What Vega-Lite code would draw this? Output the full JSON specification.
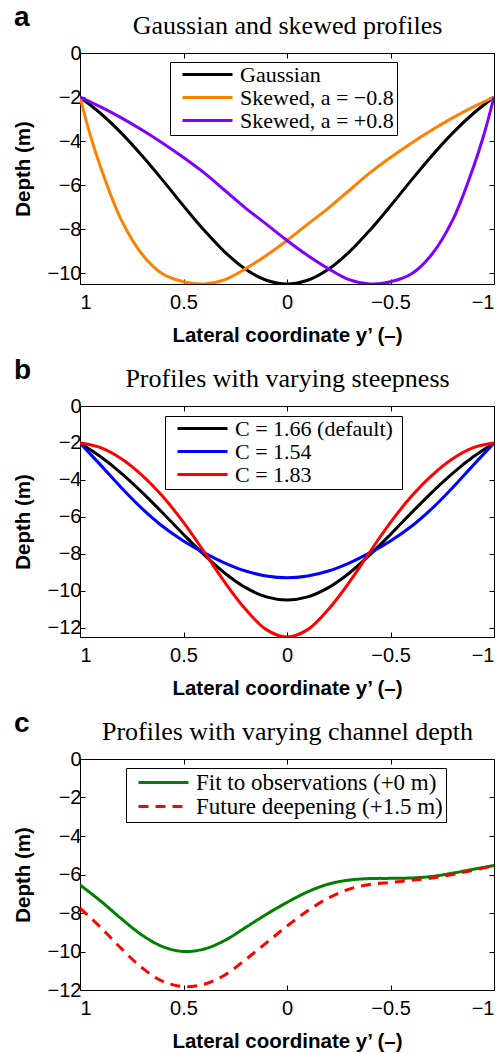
{
  "$schema": "https://vega.github.io/schema/vega-lite/v6.json",
  "background": "white",
  "padding": {"left": 12, "top": 3, "right": 0, "bottom": 0},
  "spacing": 10,
  "resolve": {"scale": {"color": "independent", "strokeDash": "independent"}, "legend": {"color": "independent", "strokeDash": "independent"}},
  "config": {
    "view": {"stroke": "black", "strokeWidth": 1},
    "axis": {"labelFont": "Liberation Sans", "labelFontSize": 20, "labelColor": "black", "titleFont": "Liberation Sans", "titleFontSize": 20.5, "titleFontWeight": "bold", "titleColor": "black", "tickColor": "black", "tickSize": -5, "tickWidth": 1, "domain": false, "grid": false},
    "legend": {"orient": "none", "strokeColor": "black", "fillColor": "white", "padding": 3, "labelFont": "Liberation Serif", "labelColor": "black", "symbolType": "stroke", "symbolSize": 2500, "symbolStrokeWidth": 3, "symbolOffset": 8, "labelOffset": 6, "rowPadding": 0, "cornerRadius": 0, "labelLimit": 400},
    "title": {"font": "Liberation Sans", "fontSize": 28, "fontWeight": "bold", "color": "black", "anchor": "start", "frame": "group"}
  },
  "datasets": {
    "a": [
      {"s": "Gaussian", "y": -1, "d": -2}, {"s": "Gaussian", "y": -0.9, "d": -2.75}, {"s": "Gaussian", "y": -0.8, "d": -3.64}, {"s": "Gaussian", "y": -0.7, "d": -4.67}, {"s": "Gaussian", "y": -0.6, "d": -5.79}, {"s": "Gaussian", "y": -0.5, "d": -6.95}, {"s": "Gaussian", "y": -0.4, "d": -8.06}, {"s": "Gaussian", "y": -0.3, "d": -9.05}, {"s": "Gaussian", "y": -0.2, "d": -9.83}, {"s": "Gaussian", "y": -0.1, "d": -10.33}, {"s": "Gaussian", "y": 0, "d": -10.5}, {"s": "Gaussian", "y": 0.1, "d": -10.33}, {"s": "Gaussian", "y": 0.2, "d": -9.83}, {"s": "Gaussian", "y": 0.3, "d": -9.05}, {"s": "Gaussian", "y": 0.4, "d": -8.06}, {"s": "Gaussian", "y": 0.5, "d": -6.95}, {"s": "Gaussian", "y": 0.6, "d": -5.79}, {"s": "Gaussian", "y": 0.7, "d": -4.67}, {"s": "Gaussian", "y": 0.8, "d": -3.64}, {"s": "Gaussian", "y": 0.9, "d": -2.75}, {"s": "Gaussian", "y": 1, "d": -2},
      {"s": "Skewed, a = −0.8", "y": -1, "d": -2}, {"s": "Skewed, a = −0.8", "y": -0.9, "d": -2.45}, {"s": "Skewed, a = −0.8", "y": -0.8, "d": -2.95}, {"s": "Skewed, a = −0.8", "y": -0.7, "d": -3.5}, {"s": "Skewed, a = −0.8", "y": -0.6, "d": -4.1}, {"s": "Skewed, a = −0.8", "y": -0.5, "d": -4.75}, {"s": "Skewed, a = −0.8", "y": -0.4, "d": -5.45}, {"s": "Skewed, a = −0.8", "y": -0.3, "d": -6.25}, {"s": "Skewed, a = −0.8", "y": -0.2, "d": -7.05}, {"s": "Skewed, a = −0.8", "y": -0.1, "d": -7.78}, {"s": "Skewed, a = −0.8", "y": 0, "d": -8.52}, {"s": "Skewed, a = −0.8", "y": 0.1, "d": -9.2}, {"s": "Skewed, a = −0.8", "y": 0.2, "d": -9.8}, {"s": "Skewed, a = −0.8", "y": 0.3, "d": -10.3}, {"s": "Skewed, a = −0.8", "y": 0.4, "d": -10.5}, {"s": "Skewed, a = −0.8", "y": 0.5, "d": -10.4}, {"s": "Skewed, a = −0.8", "y": 0.6, "d": -10.05}, {"s": "Skewed, a = −0.8", "y": 0.7, "d": -9.15}, {"s": "Skewed, a = −0.8", "y": 0.8, "d": -7.6}, {"s": "Skewed, a = −0.8", "y": 0.9, "d": -5.2}, {"s": "Skewed, a = −0.8", "y": 0.95, "d": -3.75}, {"s": "Skewed, a = −0.8", "y": 1, "d": -2},
      {"s": "Skewed, a = +0.8", "y": 1, "d": -2}, {"s": "Skewed, a = +0.8", "y": 0.9, "d": -2.45}, {"s": "Skewed, a = +0.8", "y": 0.8, "d": -2.95}, {"s": "Skewed, a = +0.8", "y": 0.7, "d": -3.5}, {"s": "Skewed, a = +0.8", "y": 0.6, "d": -4.1}, {"s": "Skewed, a = +0.8", "y": 0.5, "d": -4.75}, {"s": "Skewed, a = +0.8", "y": 0.4, "d": -5.45}, {"s": "Skewed, a = +0.8", "y": 0.3, "d": -6.25}, {"s": "Skewed, a = +0.8", "y": 0.2, "d": -7.05}, {"s": "Skewed, a = +0.8", "y": 0.1, "d": -7.78}, {"s": "Skewed, a = +0.8", "y": 0, "d": -8.52}, {"s": "Skewed, a = +0.8", "y": -0.1, "d": -9.2}, {"s": "Skewed, a = +0.8", "y": -0.2, "d": -9.8}, {"s": "Skewed, a = +0.8", "y": -0.3, "d": -10.3}, {"s": "Skewed, a = +0.8", "y": -0.4, "d": -10.5}, {"s": "Skewed, a = +0.8", "y": -0.5, "d": -10.4}, {"s": "Skewed, a = +0.8", "y": -0.6, "d": -10.05}, {"s": "Skewed, a = +0.8", "y": -0.7, "d": -9.15}, {"s": "Skewed, a = +0.8", "y": -0.8, "d": -7.6}, {"s": "Skewed, a = +0.8", "y": -0.9, "d": -5.2}, {"s": "Skewed, a = +0.8", "y": -0.95, "d": -3.75}, {"s": "Skewed, a = +0.8", "y": -1, "d": -2}
    ],
    "b": [
      {"s": "C = 1.66  (default)", "y": -1, "d": -2}, {"s": "C = 1.66  (default)", "y": -0.9, "d": -2.75}, {"s": "C = 1.66  (default)", "y": -0.8, "d": -3.64}, {"s": "C = 1.66  (default)", "y": -0.7, "d": -4.67}, {"s": "C = 1.66  (default)", "y": -0.6, "d": -5.79}, {"s": "C = 1.66  (default)", "y": -0.5, "d": -6.95}, {"s": "C = 1.66  (default)", "y": -0.4, "d": -8.06}, {"s": "C = 1.66  (default)", "y": -0.3, "d": -9.05}, {"s": "C = 1.66  (default)", "y": -0.2, "d": -9.83}, {"s": "C = 1.66  (default)", "y": -0.1, "d": -10.33}, {"s": "C = 1.66  (default)", "y": 0, "d": -10.5}, {"s": "C = 1.66  (default)", "y": 0.1, "d": -10.33}, {"s": "C = 1.66  (default)", "y": 0.2, "d": -9.83}, {"s": "C = 1.66  (default)", "y": 0.3, "d": -9.05}, {"s": "C = 1.66  (default)", "y": 0.4, "d": -8.06}, {"s": "C = 1.66  (default)", "y": 0.5, "d": -6.95}, {"s": "C = 1.66  (default)", "y": 0.6, "d": -5.79}, {"s": "C = 1.66  (default)", "y": 0.7, "d": -4.67}, {"s": "C = 1.66  (default)", "y": 0.8, "d": -3.64}, {"s": "C = 1.66  (default)", "y": 0.9, "d": -2.75}, {"s": "C = 1.66  (default)", "y": 1, "d": -2},
      {"s": "C = 1.54", "y": -1, "d": -2}, {"s": "C = 1.54", "y": -0.9, "d": -3.2}, {"s": "C = 1.54", "y": -0.8, "d": -4.42}, {"s": "C = 1.54", "y": -0.7, "d": -5.55}, {"s": "C = 1.54", "y": -0.6, "d": -6.52}, {"s": "C = 1.54", "y": -0.5, "d": -7.3}, {"s": "C = 1.54", "y": -0.4, "d": -7.95}, {"s": "C = 1.54", "y": -0.3, "d": -8.5}, {"s": "C = 1.54", "y": -0.2, "d": -8.93}, {"s": "C = 1.54", "y": -0.1, "d": -9.2}, {"s": "C = 1.54", "y": 0, "d": -9.3}, {"s": "C = 1.54", "y": 0.1, "d": -9.2}, {"s": "C = 1.54", "y": 0.2, "d": -8.93}, {"s": "C = 1.54", "y": 0.3, "d": -8.5}, {"s": "C = 1.54", "y": 0.4, "d": -7.95}, {"s": "C = 1.54", "y": 0.5, "d": -7.3}, {"s": "C = 1.54", "y": 0.6, "d": -6.52}, {"s": "C = 1.54", "y": 0.7, "d": -5.55}, {"s": "C = 1.54", "y": 0.8, "d": -4.42}, {"s": "C = 1.54", "y": 0.9, "d": -3.2}, {"s": "C = 1.54", "y": 1, "d": -2},
      {"s": "C = 1.83", "y": -1, "d": -2}, {"s": "C = 1.83", "y": -0.9, "d": -2.25}, {"s": "C = 1.83", "y": -0.8, "d": -2.85}, {"s": "C = 1.83", "y": -0.7, "d": -3.75}, {"s": "C = 1.83", "y": -0.6, "d": -4.9}, {"s": "C = 1.83", "y": -0.5, "d": -6.3}, {"s": "C = 1.83", "y": -0.4, "d": -7.9}, {"s": "C = 1.83", "y": -0.3, "d": -9.55}, {"s": "C = 1.83", "y": -0.2, "d": -11.0}, {"s": "C = 1.83", "y": -0.1, "d": -12.1}, {"s": "C = 1.83", "y": 0, "d": -12.5}, {"s": "C = 1.83", "y": 0.1, "d": -12.1}, {"s": "C = 1.83", "y": 0.2, "d": -11.0}, {"s": "C = 1.83", "y": 0.3, "d": -9.55}, {"s": "C = 1.83", "y": 0.4, "d": -7.9}, {"s": "C = 1.83", "y": 0.5, "d": -6.3}, {"s": "C = 1.83", "y": 0.6, "d": -4.9}, {"s": "C = 1.83", "y": 0.7, "d": -3.75}, {"s": "C = 1.83", "y": 0.8, "d": -2.85}, {"s": "C = 1.83", "y": 0.9, "d": -2.25}, {"s": "C = 1.83", "y": 1, "d": -2}
    ],
    "c": [
      {"s": "Fit to observations (+0 m)", "y": 1, "d": -6.54}, {"s": "Fit to observations (+0 m)", "y": 0.9, "d": -7.38}, {"s": "Fit to observations (+0 m)", "y": 0.8, "d": -8.3}, {"s": "Fit to observations (+0 m)", "y": 0.7, "d": -9.15}, {"s": "Fit to observations (+0 m)", "y": 0.6, "d": -9.75}, {"s": "Fit to observations (+0 m)", "y": 0.5, "d": -10.0}, {"s": "Fit to observations (+0 m)", "y": 0.4, "d": -9.87}, {"s": "Fit to observations (+0 m)", "y": 0.3, "d": -9.42}, {"s": "Fit to observations (+0 m)", "y": 0.2, "d": -8.75}, {"s": "Fit to observations (+0 m)", "y": 0.1, "d": -8.07}, {"s": "Fit to observations (+0 m)", "y": 0, "d": -7.45}, {"s": "Fit to observations (+0 m)", "y": -0.1, "d": -6.9}, {"s": "Fit to observations (+0 m)", "y": -0.2, "d": -6.5}, {"s": "Fit to observations (+0 m)", "y": -0.3, "d": -6.29}, {"s": "Fit to observations (+0 m)", "y": -0.4, "d": -6.21}, {"s": "Fit to observations (+0 m)", "y": -0.5, "d": -6.2}, {"s": "Fit to observations (+0 m)", "y": -0.6, "d": -6.18}, {"s": "Fit to observations (+0 m)", "y": -0.7, "d": -6.1}, {"s": "Fit to observations (+0 m)", "y": -0.8, "d": -5.93}, {"s": "Fit to observations (+0 m)", "y": -0.9, "d": -5.73}, {"s": "Fit to observations (+0 m)", "y": -1, "d": -5.53},
      {"s": "Future deepening (+1.5 m)", "y": 1, "d": -7.75}, {"s": "Future deepening (+1.5 m)", "y": 0.9, "d": -8.75}, {"s": "Future deepening (+1.5 m)", "y": 0.8, "d": -9.85}, {"s": "Future deepening (+1.5 m)", "y": 0.7, "d": -10.85}, {"s": "Future deepening (+1.5 m)", "y": 0.6, "d": -11.55}, {"s": "Future deepening (+1.5 m)", "y": 0.5, "d": -11.82}, {"s": "Future deepening (+1.5 m)", "y": 0.4, "d": -11.7}, {"s": "Future deepening (+1.5 m)", "y": 0.3, "d": -11.22}, {"s": "Future deepening (+1.5 m)", "y": 0.2, "d": -10.42}, {"s": "Future deepening (+1.5 m)", "y": 0.1, "d": -9.55}, {"s": "Future deepening (+1.5 m)", "y": 0, "d": -8.68}, {"s": "Future deepening (+1.5 m)", "y": -0.1, "d": -7.88}, {"s": "Future deepening (+1.5 m)", "y": -0.2, "d": -7.22}, {"s": "Future deepening (+1.5 m)", "y": -0.3, "d": -6.76}, {"s": "Future deepening (+1.5 m)", "y": -0.4, "d": -6.52}, {"s": "Future deepening (+1.5 m)", "y": -0.5, "d": -6.41}, {"s": "Future deepening (+1.5 m)", "y": -0.6, "d": -6.3}, {"s": "Future deepening (+1.5 m)", "y": -0.7, "d": -6.18}, {"s": "Future deepening (+1.5 m)", "y": -0.8, "d": -6.0}, {"s": "Future deepening (+1.5 m)", "y": -0.9, "d": -5.78}, {"s": "Future deepening (+1.5 m)", "y": -1, "d": -5.53}
    ]
  },
  "vconcat": [
    {
      "width": 414, "height": 231,
      "title": {"text": "a", "dx": -66, "dy": 23},
      "data": {"name": "a"},
      "layer": [
        {
          "mark": {"type": "line", "strokeWidth": 3, "clip": true, "interpolate": "catmull-rom"},
          "encoding": {
            "x": {"field": "y", "type": "quantitative", "scale": {"domain": [-1, 1], "reverse": true, "nice": false, "zero": false}, "axis": {"orient": "bottom", "values": [1, 0.5, 0, -0.5, -1], "format": "~g", "labelPadding": 13, "title": "Lateral coordinate y’ (–)", "titlePadding": 13}},
            "y": {"field": "d", "type": "quantitative", "scale": {"domain": [-10.5, 0], "nice": false, "zero": false}, "axis": {"orient": "left", "values": [0, -2, -4, -6, -8, -10], "format": "d", "labelPadding": 4, "title": "Depth (m)", "titlePadding": 14}},
            "color": {"field": "s", "type": "nominal", "scale": {"domain": ["Gaussian", "Skewed, a = −0.8", "Skewed, a = +0.8"], "range": ["#000000", "#ff8000", "#8000ff"]}, "legend": {"title": null, "legendX": 90, "legendY": 9, "labelFontSize": 22, "clipHeight": 19}}
          }
        },
        {
          "mark": {"type": "line", "opacity": 0},
          "encoding": {
            "x": {"field": "y", "type": "quantitative", "axis": {"orient": "top", "values": [1, 0.5, 0, -0.5, -1], "labels": false, "title": "Gaussian and skewed profiles", "titleFont": "Liberation Serif", "titleFontWeight": "normal", "titleFontSize": 26, "titleBaseline": "alphabetic", "titlePadding": 19}},
            "y": {"field": "d", "type": "quantitative", "axis": {"orient": "right", "values": [0, -2, -4, -6, -8, -10], "labels": false, "title": null}},
            "detail": {"field": "s"}
          }
        }
      ],
      "resolve": {"axis": {"x": "independent", "y": "independent"}}
    },
    {
      "width": 414, "height": 231,
      "title": {"text": "b", "dx": -66, "dy": 23},
      "data": {"name": "b"},
      "layer": [
        {
          "mark": {"type": "line", "strokeWidth": 3, "clip": true, "interpolate": "catmull-rom"},
          "encoding": {
            "x": {"field": "y", "type": "quantitative", "scale": {"domain": [-1, 1], "reverse": true, "nice": false, "zero": false}, "axis": {"orient": "bottom", "values": [1, 0.5, 0, -0.5, -1], "format": "~g", "labelPadding": 13, "title": "Lateral coordinate y’ (–)", "titlePadding": 13}},
            "y": {"field": "d", "type": "quantitative", "scale": {"domain": [-12.5, 0], "nice": false, "zero": false}, "axis": {"orient": "left", "values": [0, -2, -4, -6, -8, -10, -12], "format": "d", "labelPadding": 4, "title": "Depth (m)", "titlePadding": 14}},
            "color": {"field": "s", "type": "nominal", "scale": {"domain": ["C = 1.66  (default)", "C = 1.54", "C = 1.83"], "range": ["#000000", "#0000ff", "#ff0000"]}, "legend": {"title": null, "legendX": 85, "legendY": 10, "labelFontSize": 22, "clipHeight": 19}}
          }
        },
        {
          "mark": {"type": "line", "opacity": 0},
          "encoding": {
            "x": {"field": "y", "type": "quantitative", "axis": {"orient": "top", "values": [1, 0.5, 0, -0.5, -1], "labels": false, "title": "Profiles with varying steepness", "titleFont": "Liberation Serif", "titleFontWeight": "normal", "titleFontSize": 26, "titleBaseline": "alphabetic", "titlePadding": 19}},
            "y": {"field": "d", "type": "quantitative", "axis": {"orient": "right", "values": [0, -2, -4, -6, -8, -10, -12], "labels": false, "title": null}},
            "detail": {"field": "s"}
          }
        }
      ],
      "resolve": {"axis": {"x": "independent", "y": "independent"}}
    },
    {
      "width": 414, "height": 231,
      "title": {"text": "c", "dx": -66, "dy": 23},
      "data": {"name": "c"},
      "layer": [
        {
          "mark": {"type": "line", "strokeWidth": 3, "clip": true, "interpolate": "catmull-rom"},
          "encoding": {
            "x": {"field": "y", "type": "quantitative", "scale": {"domain": [-1, 1], "reverse": true, "nice": false, "zero": false}, "axis": {"orient": "bottom", "values": [1, 0.5, 0, -0.5, -1], "format": "~g", "labelPadding": 13, "title": "Lateral coordinate y’ (–)", "titlePadding": 13}},
            "y": {"field": "d", "type": "quantitative", "scale": {"domain": [-12, 0], "nice": false, "zero": false}, "axis": {"orient": "left", "values": [0, -2, -4, -6, -8, -10, -12], "format": "d", "labelPadding": 4, "title": "Depth (m)", "titlePadding": 14}},
            "color": {"field": "s", "type": "nominal", "scale": {"domain": ["Fit to observations (+0 m)", "Future deepening (+1.5 m)"], "range": ["#008000", "#ff0000"]}, "legend": {"title": null, "legendX": 46, "legendY": 9, "labelFontSize": 23, "clipHeight": 23}},
            "strokeDash": {"field": "s", "type": "nominal", "scale": {"domain": ["Fit to observations (+0 m)", "Future deepening (+1.5 m)"], "range": [[1, 0], [10, 7]]}, "legend": {"title": null, "legendX": 46, "legendY": 9, "labelFontSize": 23, "clipHeight": 23}}
          }
        },
        {
          "mark": {"type": "line", "opacity": 0},
          "encoding": {
            "x": {"field": "y", "type": "quantitative", "axis": {"orient": "top", "values": [1, 0.5, 0, -0.5, -1], "labels": false, "title": "Profiles with varying channel depth", "titleFont": "Liberation Serif", "titleFontWeight": "normal", "titleFontSize": 26, "titleBaseline": "alphabetic", "titlePadding": 19}},
            "y": {"field": "d", "type": "quantitative", "axis": {"orient": "right", "values": [0, -2, -4, -6, -8, -10, -12], "labels": false, "title": null}},
            "detail": {"field": "s"}
          }
        }
      ],
      "resolve": {"axis": {"x": "independent", "y": "independent"}}
    }
  ]
}
